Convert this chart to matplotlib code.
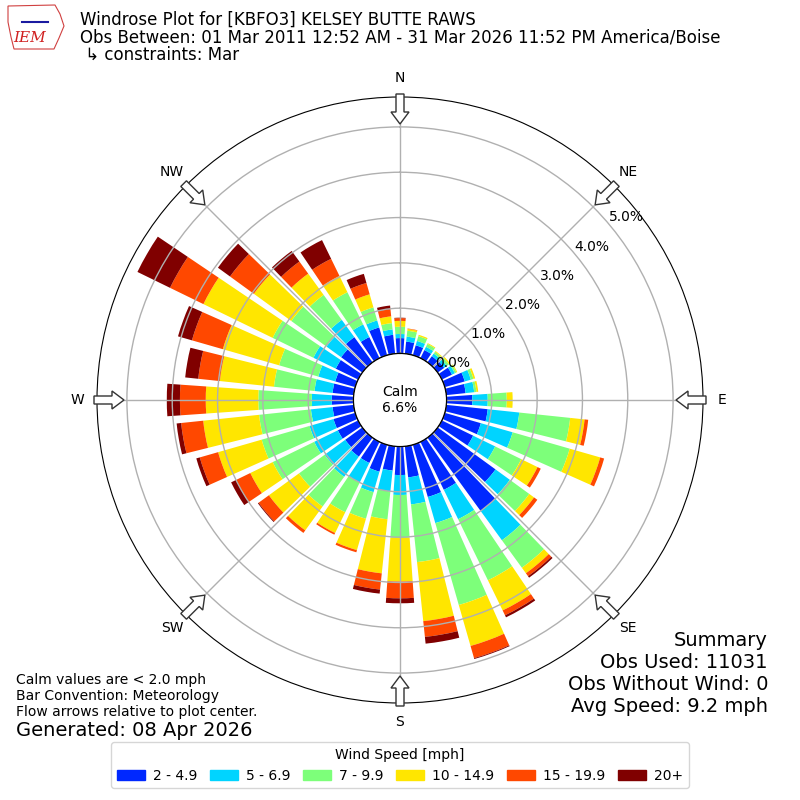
import numpy as np
import matplotlib.pyplot as plt
from matplotlib.patches import Patch, FancyArrow, Polygon

# wind direction bins (deg, meteorological) and frequency (%) per speed bin
dirs = np.arange(0, 360, 10)
spd_2_5 = [.34, .27, .23, .20, .17, .18, .25, .46, .43, .57,
           .92, .83, .77, 1.58, 2.0, 1.18, 1.2, .69, .63,
           .54, .62, .52, .52, .47, .50, .50, .47, .48,
           .47, .46, .55, .58, .69, .52, .64, .42]
spd_5_7 = [.09, .11, .10, .08, .07, .07, .07, .14, .19, .34,
           .70, .73, .54, .39, .80, .72, .60, .60, .44,
           .46, .47, .48, .55, .56, .58, .55, .48, .44,
           .40, .39, .55, .40, .47, .31, .16, .12]
spd_7_10 = [.16, .13, .11, .07, .05, .06, .04, .06, .05, .42,
            1.13, 1.31, .64, .53, .75, 1.50, 1.88, 1.28, .95,
            .62, .61, .73, .81, .70, 1.02, 1.10, 1.15, 1.18,
            .90, .90, 1.00, .96, .68, .79, .30, .14]
spd_10_15 = [.13, .04, .03, .02, .02, .03, .02, .04, .04, .13,
             .32, .70, .40, .13, .15, .74, .94, 1.31, .96,
             1.20, .72, .51, .65, .82, .55, 1.00, 1.24, 1.16,
             1.20, 1.29, 1.70, 1.02, .58, .40, .30, .15]
spd_15_20 = [.06, .01, 0, 0, 0, 0, 0, 0, 0, 0,
             .08, .09, .08, .09, .08, .12, .28, .35, .37,
             .36, .05, .04, .07, .28, .35, .42, .49, .57,
             .48, .71, .82, .65, .33, .42, .26, .16]
spd_20p = [.01, 0, 0, 0, 0, 0, 0, 0, 0, 0,
           0, 0, 0, 0, .04, .05, .02, .15, .11,
           .09, 0, 0, 0, .02, .12, .08, .10, .29,
           .29, .32, .80, .33, .29, .46, .21, .08]

bins = [spd_2_5, spd_5_7, spd_7_10, spd_10_15, spd_15_20, spd_20p]
bin_labels = ['2 - 4.9', '5 - 6.9', '7 - 9.9', '10 - 14.9', '15 - 19.9', '20+']
colors = ['#0028ff', '#00d4ff', '#7dff7a', '#ffe600', '#ff4800', '#800000']
calm_pct = 6.6

fig = plt.figure(figsize=(8, 8), dpi=100)
ax = fig.add_axes([0.12125, 0.12125, 0.7575, 0.7575], projection='polar')
ax.set_theta_zero_location('N')
ax.set_theta_direction(-1)

theta = np.deg2rad(dirs)
bottom = np.zeros(len(dirs))
for vals, c in zip(bins, colors):
    vals = np.array(vals)
    ax.bar(theta, vals, width=np.deg2rad(8), bottom=bottom, color=c, linewidth=0)
    bottom += vals

ax.set_ylim(0, 5.66)
ax.set_rorigin(-1.026)
ax.set_yticks([0, 1, 2, 3, 4, 5])
ax.set_yticklabels(['0.0%', '1.0%', '2.0%', '3.0%', '4.0%', '5.0%'], fontsize=10)
ax.set_rlabel_position(50)
ax.set_xticks(np.deg2rad(np.arange(0, 360, 45)))
ax.set_xticklabels(['N', 'NE', 'E', 'SE', 'S', 'SW', 'W', 'NW'], fontsize=10)
ax.grid(True, color='#b0b0b0', lw=1)

# calm circle
tt = np.linspace(0, 2 * np.pi, 200)
ax.plot(tt, np.zeros_like(tt), color='black', lw=1)
ax.text(0, -1.026, 'Calm\n%.1f%%' % calm_pct, ha='center', va='center', fontsize=10)

# flow arrows around the edge
for a in np.deg2rad(np.arange(0, 360, 45)):
    sx, sy = np.sin(a), np.cos(a)
    x0 = 0.5 + 306 / 800 * sx
    y0 = 0.5 + 306 / 800 * sy
    fig.add_artist(FancyArrow(x0, y0, -30 / 800 * sx, -30 / 800 * sy,
                              width=8 / 800, head_width=18 / 800, head_length=12 / 800,
                              length_includes_head=True, fc='white', ec='#333333',
                              lw=1, transform=fig.transFigure))

# logo stand-in
logo = [(8, 6), (55, 5), (60, 14), (64, 26), (59, 38), (54, 49), (14, 49), (11, 37), (8, 22)]
fig.add_artist(Polygon([(x / 800, 1 - y / 800) for x, y in logo], closed=True,
                       fc='none', ec='#d04040', lw=0.8, transform=fig.transFigure))
fig.add_artist(plt.Line2D([22 / 800, 48 / 800], [1 - 22 / 800, 1 - 22 / 800],
                          color='#1a1aa0', lw=1.5, transform=fig.transFigure))
fig.text(30 / 800, 1 - 38 / 800, 'IEM', color='#d02020', fontsize=11, family='serif',
         style='italic', ha='center', va='center')

fig.text(0.1, 1 - 20 / 800, 'Windrose Plot for [KBFO3] KELSEY BUTTE RAWS', fontsize=12, va='center')
fig.text(0.1, 1 - 38 / 800, 'Obs Between: 01 Mar 2011 12:52 AM - 31 Mar 2026 11:52 PM America/Boise',
         fontsize=12, va='center')
fig.text(0.1, 1 - 55 / 800, ' \u21b3 constraints: Mar', fontsize=12, va='center')

summary = ['Summary', 'Obs Used: 11031', 'Obs Without Wind: 0', 'Avg Speed: 9.2 mph']
for i, s in enumerate(summary):
    fig.text(768 / 800, 1 - (640 + 22 * i) / 800, s, fontsize=14, ha='right', va='center')

notes = ['Calm values are < 2.0 mph', 'Bar Convention: Meteorology',
         'Flow arrows relative to plot center.']
for i, s in enumerate(notes):
    fig.text(16 / 800, 1 - (680 + 16 * i) / 800, s, fontsize=10, va='center')
fig.text(16 / 800, 1 - 730 / 800, 'Generated: 08 Apr 2026', fontsize=14, va='center')

handles = [Patch(color=c) for c in colors]
fig.legend(handles, bin_labels, loc='lower center', ncol=6, title='Wind Speed [mph]',
           bbox_to_anchor=(0.5, 0.006), fontsize=10, title_fontsize=10,
           columnspacing=0.9, handletextpad=0.6)

fig.savefig('out.png', dpi=100)
